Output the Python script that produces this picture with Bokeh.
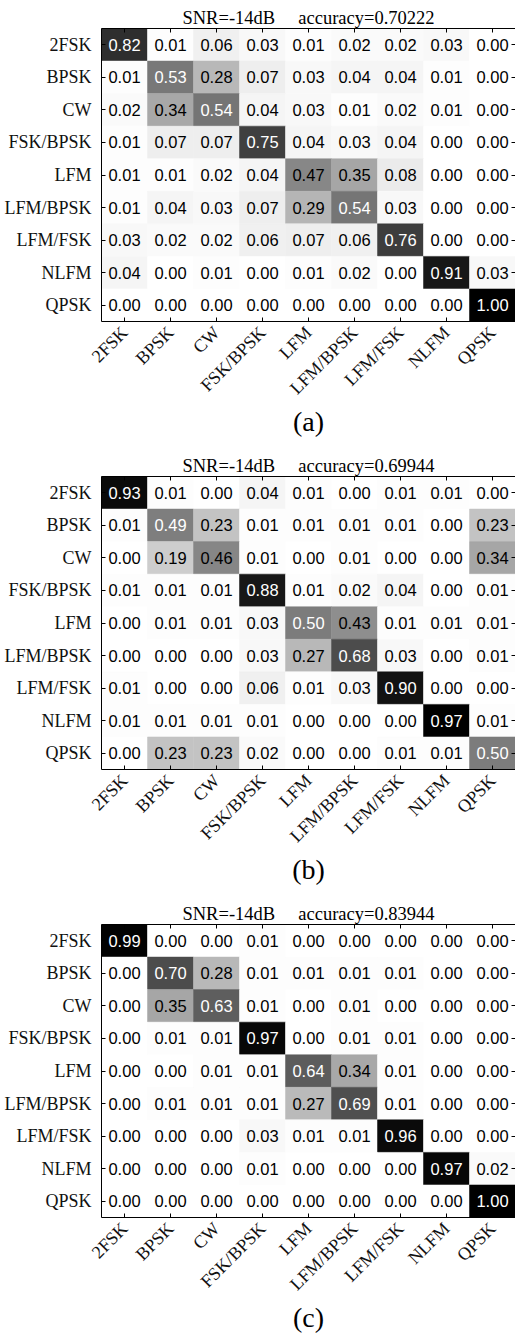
import math
from bokeh.plotting import figure
from bokeh.models import ColumnDataSource, LinearColorMapper, CategoricalAxis, Title, FactorRange
from bokeh.layouts import column
from bokeh.embed import file_html
from bokeh.resources import INLINE
from bokeh.core.properties import value
from bokeh.transform import transform

classes = ["2FSK", "BPSK", "CW", "FSK/BPSK", "LFM", "LFM/BPSK", "LFM/FSK", "NLFM", "QPSK"]
snr_label = "SNR=-14dB"
accuracies = ["0.70222", "0.69944", "0.83944"]
captions = ["(a)", "(b)", "(c)"]

cm_a = [
    [0.82, 0.01, 0.06, 0.03, 0.01, 0.02, 0.02, 0.03, 0.00],
    [0.01, 0.53, 0.28, 0.07, 0.03, 0.04, 0.04, 0.01, 0.00],
    [0.02, 0.34, 0.54, 0.04, 0.03, 0.01, 0.02, 0.01, 0.00],
    [0.01, 0.07, 0.07, 0.75, 0.04, 0.03, 0.04, 0.00, 0.00],
    [0.01, 0.01, 0.02, 0.04, 0.47, 0.35, 0.08, 0.00, 0.00],
    [0.01, 0.04, 0.03, 0.07, 0.29, 0.54, 0.03, 0.00, 0.00],
    [0.03, 0.02, 0.02, 0.06, 0.07, 0.06, 0.76, 0.00, 0.00],
    [0.04, 0.00, 0.01, 0.00, 0.01, 0.02, 0.00, 0.91, 0.03],
    [0.00, 0.00, 0.00, 0.00, 0.00, 0.00, 0.00, 0.00, 1.00],
]
cm_b = [
    [0.93, 0.01, 0.00, 0.04, 0.01, 0.00, 0.01, 0.01, 0.00],
    [0.01, 0.49, 0.23, 0.01, 0.01, 0.01, 0.01, 0.00, 0.23],
    [0.00, 0.19, 0.46, 0.01, 0.00, 0.01, 0.00, 0.00, 0.34],
    [0.01, 0.01, 0.01, 0.88, 0.01, 0.02, 0.04, 0.00, 0.01],
    [0.00, 0.01, 0.01, 0.03, 0.50, 0.43, 0.01, 0.01, 0.01],
    [0.00, 0.00, 0.00, 0.03, 0.27, 0.68, 0.03, 0.00, 0.01],
    [0.01, 0.00, 0.00, 0.06, 0.01, 0.03, 0.90, 0.00, 0.00],
    [0.01, 0.01, 0.01, 0.01, 0.00, 0.00, 0.00, 0.97, 0.01],
    [0.00, 0.23, 0.23, 0.02, 0.00, 0.00, 0.01, 0.01, 0.50],
]
cm_c = [
    [0.99, 0.00, 0.00, 0.01, 0.00, 0.00, 0.00, 0.00, 0.00],
    [0.00, 0.70, 0.28, 0.01, 0.01, 0.01, 0.01, 0.00, 0.00],
    [0.00, 0.35, 0.63, 0.01, 0.00, 0.01, 0.00, 0.00, 0.00],
    [0.00, 0.01, 0.01, 0.97, 0.00, 0.01, 0.01, 0.00, 0.00],
    [0.00, 0.00, 0.01, 0.01, 0.64, 0.34, 0.01, 0.00, 0.00],
    [0.00, 0.01, 0.01, 0.01, 0.27, 0.69, 0.01, 0.00, 0.00],
    [0.00, 0.00, 0.00, 0.03, 0.01, 0.01, 0.96, 0.00, 0.00],
    [0.00, 0.00, 0.00, 0.01, 0.00, 0.00, 0.00, 0.97, 0.02],
    [0.00, 0.00, 0.00, 0.00, 0.00, 0.00, 0.00, 0.00, 1.00],
]

grays = ["#%02x%02x%02x" % (v, v, v) for v in range(255, -1, -1)]
SERIF = "Liberation Serif"
SANS = "Liberation Sans"


def tick_only_axis(line_color):
    # an axis that only draws inward ticks (no labels)
    return CategoricalAxis(major_label_text_font_size="0px", major_label_text_color=None,
                           major_label_overrides={c: "" for c in classes},
                           major_label_standoff=0, major_tick_in=4, major_tick_out=0,
                           axis_line_color=line_color, major_tick_line_color="black")


def panel(cm, acc, caption, height):
    vmax = max(max(r) for r in cm)
    xs, ys, vs, labels, tcs = [], [], [], [], []
    for i, t in enumerate(classes):
        for j, pr in enumerate(classes):
            v = cm[i][j]
            xs.append(pr)
            ys.append(t)
            vs.append(v)
            labels.append("%.2f" % v)
            tcs.append("white" if v > vmax / 2 else "black")
    src = ColumnDataSource(dict(x=xs, y=ys, v=vs, label=labels, tc=tcs))
    mapper = LinearColorMapper(palette=grays, low=0, high=vmax)

    p = figure(x_range=FactorRange(*classes), y_range=FactorRange(*classes[::-1]),
               frame_width=414, frame_height=293,
               min_border_left=101, min_border_right=0, min_border_top=28,
               min_border_bottom=height - 28 - 293,
               output_backend="svg", toolbar_location=None)
    p.rect(x="x", y="y", width=1, height=1, source=src,
           fill_color=transform("v", mapper), line_color=transform("v", mapper), line_width=0.5)
    p.text(x="x", y="y", text="label", source=src, text_color="tc",
           text_align="center", text_baseline="middle",
           text_font=value(SANS), text_font_size="16.5px")

    p.title.text = snr_label + "\u00a0" * 5 + "accuracy=" + acc
    p.title.align = "center"
    p.title.offset = 6
    p.title.text_font = SERIF
    p.title.text_font_style = "normal"
    p.title.text_font_size = "18.5px"
    p.title.text_color = "black"
    p.title.standoff = 2

    p.grid.visible = False
    p.outline_line_color = None
    p.background_fill_color = "white"
    p.border_fill_color = "white"

    for ax in (p.xaxis[0], p.yaxis[0]):
        ax.major_tick_in = 4
        ax.major_tick_out = 0
        ax.axis_line_color = "black"
        ax.major_tick_line_color = "black"
        ax.major_label_text_font = SERIF
        ax.major_label_text_font_size = "18px"
        ax.major_label_text_color = "#111111"
    p.xaxis[0].major_label_orientation = math.pi / 4
    p.xaxis[0].major_label_standoff = 8
    p.yaxis[0].major_label_standoff = 10

    p.add_layout(tick_only_axis("black"), "above")
    p.add_layout(tick_only_axis(None), "right")

    cap = Title(text=caption, align="center", text_font=SERIF, text_font_style="normal",
                text_font_size="28px", text_color="black", standoff=-10)
    p.add_layout(cap, "below")
    return p


pa = panel(cm_a, accuracies[0], captions[0], 448)
pb = panel(cm_b, accuracies[1], captions[1], 448)
pc = panel(cm_c, accuracies[2], captions[2], 444)

layout = column(pa, pb, pc, spacing=0)
open("out.html", "w").write(file_html(layout, INLINE))
